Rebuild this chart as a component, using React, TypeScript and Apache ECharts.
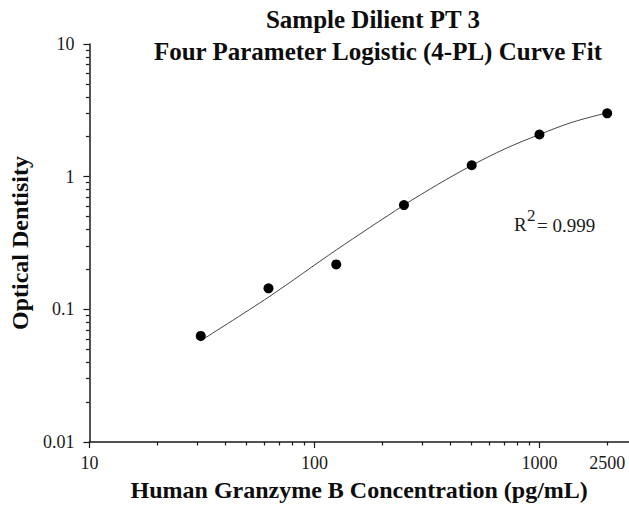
import React, { useEffect, useRef } from 'react';
import * as echarts from 'echarts';

// ---- data ----
const concentration = [31.25, 62.5, 125, 250, 500, 1000, 2000];
const opticalDensity = [0.063, 0.144, 0.218, 0.611, 1.22, 2.08, 3.0];

// fitted 4-PL curve
const fitX = [31.25, 62.7, 125, 249, 352, 497, 702, 1000, 1396, 2000];
const fitY = [0.058, 0.124, 0.28, 0.608, 0.87, 1.21, 1.62, 2.08, 2.57, 3.03];

const xTickValues = [10, 100, 1000, 2000];
const xTickLabels = ['10', '100', '1000', '2500'];
const xMajorTicks = [10, 100, 1000];
const yTickValues = [0.01, 0.1, 1, 10];
const yTickLabels = ['0.01', '0.1', '1', '10'];
const minorMultipliers = [2, 3, 4, 5, 6, 7, 8, 9];

const titleLine1 = 'Sample Dilient PT 3';
const titleLine2 = 'Four Parameter Logistic (4-PL) Curve Fit';
const xName = 'Human Granzyme B Concentration (pg/mL)';
const yName = 'Optical Dentisity';
const r2Value = '= 0.999';

const SERIF = "'Times New Roman', 'Liberation Serif', serif";

const X_MIN = 10;
const X_MAX = 2500;
const Y_MIN = 0.01;
const Y_MAX = 10;

const xMinorTicks = [10, 100, 1000]
  .flatMap((d) => minorMultipliers.map((m) => m * d))
  .filter((v) => v <= X_MAX);
const yMinorTicks = [0.01, 0.1, 1].flatMap((d) => minorMultipliers.map((m) => +(m * d).toPrecision(6)));

const lookup = (vals: number[], labels: string[]) => (v: number) => {
  const i = vals.findIndex((t) => Math.abs(t - v) / t < 1e-6);
  return i >= 0 ? labels[i] : '';
};

const axisLineStyle = { color: '#1a1a1a', width: 1.5 };
const tickStyle = { color: '#1a1a1a', width: 1.2 };

export default function App() {
  const ref = useRef<HTMLDivElement>(null);

  useEffect(() => {
    if (!ref.current) return;
    const chart = echarts.init(ref.current, null, { renderer: 'svg' });

    const option: any = {
      animation: false,
      backgroundColor: '#ffffff',
      grid: { left: 87, top: 44, right: 0, bottom: 69 },
      xAxis: [
        {
          type: 'log',
          logBase: 10,
          min: X_MIN,
          max: X_MAX,
          position: 'bottom',
          axisLine: { show: true, onZero: false, lineStyle: axisLineStyle },
          axisTick: { show: true, length: 6, customValues: xMajorTicks, lineStyle: tickStyle },
          minorTick: { show: false },
          splitLine: { show: false },
          axisLabel: {
            customValues: xTickValues,
            formatter: lookup(xTickValues, xTickLabels),
            fontSize: 18,
            fontFamily: SERIF,
            color: '#1a1a1a',
            margin: 12,
          },
          name: xName,
          nameLocation: 'middle',
          nameGap: 36,
          nameTextStyle: { fontSize: 24, fontWeight: 'bold', fontFamily: SERIF, color: '#0d0d0d' },
        },
        {
          type: 'log',
          logBase: 10,
          min: X_MIN,
          max: X_MAX,
          position: 'bottom',
          axisLine: { show: false, onZero: false },
          axisTick: { show: true, length: 3.5, customValues: xMinorTicks, lineStyle: tickStyle },
          axisLabel: { show: false },
          splitLine: { show: false },
        },
      ],
      yAxis: [
        {
          type: 'log',
          logBase: 10,
          min: Y_MIN,
          max: Y_MAX,
          position: 'left',
          axisLine: { show: true, onZero: false, lineStyle: axisLineStyle },
          axisTick: { show: true, length: 6, customValues: yTickValues, lineStyle: tickStyle },
          minorTick: { show: false },
          splitLine: { show: false },
          axisLabel: {
            customValues: yTickValues,
            formatter: lookup(yTickValues, yTickLabels),
            fontSize: 18,
            fontFamily: SERIF,
            color: '#1a1a1a',
            margin: 15,
          },
          name: yName,
          nameLocation: 'middle',
          nameRotate: 90,
          nameGap: 51,
          nameTextStyle: { fontSize: 24, fontWeight: 'bold', fontFamily: SERIF, color: '#0d0d0d' },
        },
        {
          type: 'log',
          logBase: 10,
          min: Y_MIN,
          max: Y_MAX,
          position: 'left',
          axisLine: { show: false, onZero: false },
          axisTick: { show: true, length: 3.5, customValues: yMinorTicks, lineStyle: tickStyle },
          axisLabel: { show: false },
          splitLine: { show: false },
        },
      ],
      series: [
        {
          type: 'line',
          xAxisIndex: 0,
          yAxisIndex: 0,
          data: fitX.map((x, i) => [x, fitY[i]]),
          smooth: 0.3,
          showSymbol: false,
          lineStyle: { color: '#444', width: 1 },
          z: 2,
        },
        {
          type: 'scatter',
          xAxisIndex: 0,
          yAxisIndex: 0,
          data: concentration.map((x, i) => [x, opticalDensity[i]]),
          symbol: 'circle',
          symbolSize: 10,
          itemStyle: { color: '#000', opacity: 1 },
          z: 3,
        },
      ],
      graphic: [
        {
          type: 'text',
          x: 373,
          y: 19,
          style: {
            text: titleLine1,
            fontSize: 25,
            fontWeight: 'bold',
            fontFamily: SERIF,
            fill: '#0d0d0d',
            textAlign: 'center',
            textVerticalAlign: 'middle',
          },
        },
        {
          type: 'text',
          x: 378,
          y: 51,
          style: {
            text: titleLine2,
            fontSize: 25,
            fontWeight: 'bold',
            fontFamily: SERIF,
            fill: '#0d0d0d',
            textAlign: 'center',
            textVerticalAlign: 'middle',
          },
        },
        {
          type: 'text',
          x: 514,
          y: 224,
          style: { text: 'R', fontSize: 19, fontFamily: SERIF, fill: '#1a1a1a', textAlign: 'left', textVerticalAlign: 'middle' },
        },
        {
          type: 'text',
          x: 527,
          y: 215,
          style: { text: '2', fontSize: 17, fontFamily: SERIF, fill: '#1a1a1a', textAlign: 'left', textVerticalAlign: 'middle' },
        },
        {
          type: 'text',
          x: 537,
          y: 225,
          style: { text: r2Value, fontSize: 19, fontFamily: SERIF, fill: '#1a1a1a', textAlign: 'left', textVerticalAlign: 'middle' },
        },
      ],
    };

    chart.setOption(option);
    return () => chart.dispose();
  }, []);

  return (
    <div
      ref={ref}
      style={{ position: 'absolute', left: 0, top: 0, width: 629, height: 511, background: '#fff' }}
    />
  );
}
